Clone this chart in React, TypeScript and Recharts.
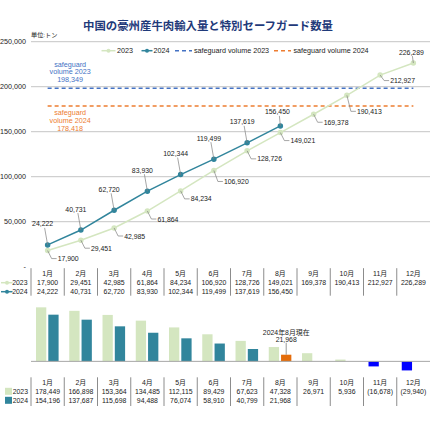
import React from 'react';
import { LineChart, Line, BarChart, Bar, XAxis, YAxis, CartesianGrid, ReferenceLine, LabelList, Cell } from 'recharts';

const months = ['1月', '2月', '3月', '4月', '5月', '6月', '7月', '8月', '9月', '10月', '11月', '12月'];
const imports2023 = [17900, 29451, 42985, 61864, 84234, 106920, 128726, 149021, 169378, 190413, 212927, 226289];
const imports2024 = [24222, 40731, 62720, 83930, 102344, 119499, 137619, 156450];
const safeguard2023 = 198349;
const safeguard2024 = 178418;
const remain2023 = [178449, 166898, 153364, 134485, 112115, 89429, 67623, 47328, 26971, 5936, -16678, -29940];
const remain2024 = [154196, 137687, 115698, 94488, 76074, 58910, 40799, 21968];
const yTicks = [0, 50000, 100000, 150000, 200000, 250000];
const gridValues = [50000, 100000, 150000, 200000, 250000];

const lineData = months.map((m, i) => ({ month: m, y2023: imports2023[i], y2024: imports2024[i] ?? null }));
const barData = months.map((m, i) => ({ month: m, r2023: remain2023[i], r2024: remain2024[i] ?? null }));

const W = 430;
const AXIS_W = 31;
const BAND = (W - AXIS_W) / 12;
const FONT = "'Liberation Sans', 'Noto Sans CJK JP', sans-serif";
const TXT = '#222';
const C23 = '#d4e6c0';
const C24 = '#31859c';
const SG23 = '#4472c4';
const SG24 = '#ed7d31';
const ORANGE = '#e46c0a';
const NEG = '#0000ff';
const LEAD = '#7f7f7f';

const fmt = (v: number) => (v < 0 ? `(${Math.abs(v).toLocaleString('en-US')})` : v.toLocaleString('en-US'));

// data labels on the 2024 line: above-left with a leader line
const Label2024 = (props: any) => {
  const { x, y, value, index } = props;
  if (value == null) return null;
  const last = index === imports2024.length - 1;
  const tx = x - (last ? 3 : 5);
  const ty = y - (last ? 14 : 21);
  return (
    <g>
      <line x1={tx + 2} y1={ty + 4} x2={x} y2={y} stroke={LEAD} strokeWidth={0.7} />
      <text x={tx} y={ty} textAnchor="middle" dominantBaseline="central" fontSize={6.9} fill={TXT} fontFamily={FONT}>
        {fmt(value)}
      </text>
    </g>
  );
};

// data labels on the 2023 line: below-right with an elbow leader
const Label2023 = (props: any) => {
  const { x, y, value, index } = props;
  if (value == null) return null;
  if (index === imports2023.length - 1) {
    return (
      <g>
        <line x1={x - 1} y1={y - 7} x2={x} y2={y} stroke={LEAD} strokeWidth={0.7} />
        <text x={x - 2} y={y - 11} textAnchor="middle" dominantBaseline="central" fontSize={6.9} fill={TXT} fontFamily={FONT}>
          {fmt(value)}
        </text>
      </g>
    );
  }
  // a few labels are nudged to clear the safeguard lines
  const ty = y + (index === 9 ? 16 : index === 10 ? 5.5 : index === 5 ? 11 : 8);
  return (
    <g>
      <polyline points={`${x},${y} ${x + 4},${ty} ${x + 9},${ty}`} fill="none" stroke={LEAD} strokeWidth={0.7} />
      <text x={x + 10} y={ty} textAnchor="start" dominantBaseline="central" fontSize={6.9} fill={TXT} fontFamily={FONT}>
        {fmt(value)}
      </text>
    </g>
  );
};

const SafeguardLabel = ({ viewBox, lines, color, above }: any) => {
  const cx = viewBox.x + 22.5;
  const base = above ? viewBox.y - 24 : viewBox.y + 6.5;
  return (
    <g>
      {lines.map((t: string, i: number) => (
        <text key={i} x={cx} y={base + i * 7.8} textAnchor="middle" dominantBaseline="central" fontSize={7.2} fill={color} fontFamily={FONT}>
          {t}
        </text>
      ))}
    </g>
  );
};

const LineTableTick = (props: any) => {
  const { x, y, payload, index } = props;
  const left = x - BAND / 2;
  const v23 = imports2023[index];
  const v24 = imports2024[index];
  const t = { textAnchor: 'middle' as const, dominantBaseline: 'central' as const, fontSize: 6.9, fill: TXT, fontFamily: FONT };
  return (
    <g>
      <line x1={left} x2={left} y1={y + 1.5} y2={y + 29} stroke="#8c8c8c" strokeWidth={1} />
      <text x={x} y={y + 6.5} {...t}>{payload.value}</text>
      <text x={x} y={y + 16} {...t}>{fmt(v23)}</text>
      {v24 != null && <text x={x} y={y + 25} {...t}>{fmt(v24)}</text>}
      {index === 0 && (
        <g>
          <line x1={1} x2={12.5} y1={y + 16} y2={y + 16} stroke={C23} strokeWidth={1.5} />
          <circle cx={7} cy={y + 16} r={2} fill={C23} />
          <text x={27.5} y={y + 16} {...t} textAnchor="end">2023</text>
          <line x1={1} x2={12.5} y1={y + 25} y2={y + 25} stroke={C24} strokeWidth={1.5} />
          <circle cx={7} cy={y + 25} r={2} fill={C24} />
          <text x={27.5} y={y + 25} {...t} textAnchor="end">2024</text>
        </g>
      )}
    </g>
  );
};

const BarTableTick = (props: any) => {
  const { x, y, payload, index } = props;
  const left = x - BAND / 2;
  const v23 = remain2023[index];
  const v24 = remain2024[index];
  const t = { textAnchor: 'middle' as const, dominantBaseline: 'central' as const, fontSize: 6.9, fill: TXT, fontFamily: FONT };
  return (
    <g>
      <line x1={left} x2={left} y1={y + 0.8} y2={y + 29.5} stroke="#8c8c8c" strokeWidth={1} />
      <text x={x} y={y + 6} {...t}>{payload.value}</text>
      <text x={x} y={y + 14.8} {...t}>{fmt(v23)}</text>
      {v24 != null && <text x={x} y={y + 23.8} {...t}>{fmt(v24)}</text>}
      {index === 0 && (
        <g>
          <rect x={5} y={y + 11.3} width={7} height={7} fill={C23} />
          <text x={28} y={y + 14.8} {...t} textAnchor="end">2023</text>
          <rect x={5} y={y + 20.3} width={7} height={7} fill={C24} />
          <text x={28} y={y + 23.8} {...t} textAnchor="end">2024</text>
        </g>
      )}
    </g>
  );
};

const AugustNote = (props: any) => {
  const { x, y, width, value, index } = props;
  if (value == null || index !== remain2024.length - 1) return null;
  const cx = x + width / 2;
  return (
    <g>
      <line x1={cx} x2={cx} y1={y - 12} y2={y} stroke={LEAD} strokeWidth={0.8} />
      <text x={cx} y={y - 22} textAnchor="middle" dominantBaseline="central" fontSize={6.9} fill={TXT} fontFamily={FONT}>
        2024年8月現在
      </text>
      <text x={cx} y={y - 15.5} textAnchor="middle" dominantBaseline="central" fontSize={6.9} fill={TXT} fontFamily={FONT}>
        {fmt(value)}
      </text>
    </g>
  );
};

const Header = () => (
  <svg width={W} height={60} style={{ position: 'absolute', left: 0, top: 0 }}>
    <text x={208} y={25} textAnchor="middle" dominantBaseline="central" fontSize={11.4} fontWeight="bold" fill="#1f3a7a" fontFamily="'Noto Sans CJK JP', sans-serif">
      中国の豪州産牛肉輸入量と特別セーフガード数量
    </text>
    <text x={31} y={34} dominantBaseline="central" fontSize={6.2} fill={TXT} fontFamily={FONT}>単位:トン</text>
    <g fontFamily={FONT} fontSize={7.2} fill={TXT}>
      <line x1={101.5} x2={115.5} y1={50.7} y2={50.7} stroke={C23} strokeWidth={1.5} />
      <circle cx={108.5} cy={50.7} r={2} fill={C23} />
      <text x={117} y={50.7} dominantBaseline="central">2023</text>
      <line x1={141.5} x2={152.5} y1={50.7} y2={50.7} stroke={C24} strokeWidth={1.5} />
      <circle cx={147} cy={50.7} r={2} fill={C24} />
      <text x={153.5} y={50.7} dominantBaseline="central">2024</text>
      <line x1={175} x2={192} y1={50.7} y2={50.7} stroke={SG23} strokeWidth={1.5} strokeDasharray="4 3" />
      <text x={194} y={50.7} dominantBaseline="central">safeguard volume 2023</text>
      <line x1={274} x2={291} y1={50.7} y2={50.7} stroke={SG24} strokeWidth={1.5} strokeDasharray="4 3" />
      <text x={293.5} y={50.7} dominantBaseline="central">safeguard volume 2024</text>
    </g>
  </svg>
);

export default function App() {
  return (
    <div style={{ position: 'absolute', left: 0, top: 0, width: W, height: 426, background: '#fff', overflow: 'hidden' }}>
      <div style={{ position: 'absolute', left: 0, top: 0 }}>
        <LineChart width={W} height={300} data={lineData} margin={{ top: 41.7, right: 0, left: 0, bottom: 0 }}>
          <CartesianGrid vertical={false} horizontalValues={gridValues} stroke="#c6c6c6" />
          <XAxis
            dataKey="month"
            interval={0}
            height={33.3}
            padding={{ left: BAND / 2, right: BAND / 2 }}
            axisLine={false}
            tickLine={false}
            tickSize={0}
            tickMargin={0}
            tick={<LineTableTick />}
          />
          <YAxis
            width={AXIS_W}
            domain={[0, 250000]}
            ticks={yTicks}
            axisLine={false}
            tickLine={false}
            tickSize={0}
            tickMargin={5}
            tickFormatter={(v: number) => (v === 0 ? '-' : fmt(v))}
            tick={{ fontSize: 7.2, fill: TXT, fontFamily: FONT }}
          />
          <ReferenceLine
            segment={[{ x: months[0], y: safeguard2023 }, { x: months[11], y: safeguard2023 }]}
            stroke={SG23}
            strokeWidth={1.5}
            strokeDasharray="4 3"
            label={<SafeguardLabel lines={['safeguard', 'volume 2023', fmt(safeguard2023)]} color={SG23} above />}
          />
          <ReferenceLine
            segment={[{ x: months[0], y: safeguard2024 }, { x: months[11], y: safeguard2024 }]}
            stroke={SG24}
            strokeWidth={1.5}
            strokeDasharray="4 3"
            label={<SafeguardLabel lines={['safeguard', 'volume 2024', fmt(safeguard2024)]} color={SG24} />}
          />
          <Line
            dataKey="y2023"
            stroke={C23}
            strokeWidth={1.5}
            dot={{ r: 2, fill: C23, stroke: C23 }}
            isAnimationActive={false}
          >
            <LabelList dataKey="y2023" content={<Label2023 />} />
          </Line>
          <Line
            dataKey="y2024"
            stroke={C24}
            strokeWidth={1.5}
            dot={{ r: 2, fill: C24, stroke: C24 }}
            isAnimationActive={false}
          >
            <LabelList dataKey="y2024" content={<Label2024 />} />
          </Line>
        </LineChart>
      </div>
      <div style={{ position: 'absolute', left: 0, top: 300 }}>
        <BarChart width={W} height={110} data={barData} margin={{ top: 0.8, right: 0, left: AXIS_W, bottom: 0 }} barSize={10.3} barGap={2}>
          <XAxis
            dataKey="month"
            interval={0}
            height={33.5}
            axisLine={false}
            tickLine={false}
            tickSize={0}
            tickMargin={0}
            tick={<BarTableTick />}
          />
          <YAxis hide domain={[-50000, 200000]} />
          <Bar dataKey="r2023" fill={C23} isAnimationActive={false}>
            {barData.map((d, i) => (
              <Cell key={i} fill={d.r2023 < 0 ? NEG : C23} />
            ))}
          </Bar>
          <Bar dataKey="r2024" fill={C24} isAnimationActive={false}>
            {barData.map((d, i) => (
              <Cell key={i} fill={i === remain2024.length - 1 ? ORANGE : C24} />
            ))}
            <LabelList dataKey="r2024" content={<AugustNote />} />
          </Bar>
          <ReferenceLine y={0} stroke="#a6a6a6" strokeWidth={1} />
        </BarChart>
      </div>
      <Header />
    </div>
  );
}
